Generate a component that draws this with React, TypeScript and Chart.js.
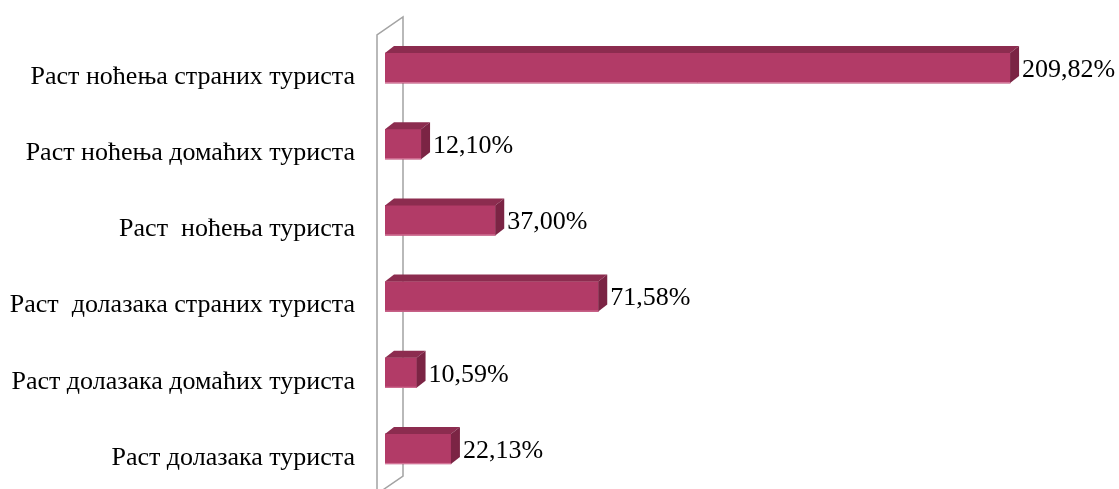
import React, { useEffect, useRef } from "react";
import { Chart, registerables } from "chart.js";

Chart.register(...registerables);

const categories = [
  "Раст ноћења страних туриста",
  "Раст ноћења домаћих туриста",
  "Раст  ноћења туриста",
  "Раст  долазака страних туриста",
  "Раст долазака домаћих туриста",
  "Раст долазака туриста",
];
const values = [209.82, 12.1, 37.0, 71.58, 10.59, 22.13];
const valueLabels = ["209,82%", "12,10%", "37,00%", "71,58%", "10,59%", "22,13%"];

const FONT = "'Liberation Serif', 'Times New Roman', serif";
const DX = 9;
const DY = 7;

const bar3d = {
  id: "bar3d",
  beforeDatasetsDraw(chart: any) {
    const ctx = chart.ctx;
    const xs = chart.scales.x;
    const ys = chart.scales.y;
    const x0 = xs.getPixelForValue(0);
    const lx = x0 - 8;
    const rx = x0 + 18;
    const top = ys.top + 5;
    const bottom = chart.height + 10;
    ctx.save();
    ctx.strokeStyle = "#A3A3A3";
    ctx.lineWidth = 1.5;
    ctx.beginPath();
    ctx.moveTo(lx, bottom);
    ctx.lineTo(lx, top);
    ctx.lineTo(rx, top - 18);
    ctx.lineTo(rx, ys.bottom - 11);
    ctx.lineTo(lx, ys.bottom + 7);
    ctx.stroke();
    ctx.restore();
  },
  afterDatasetsDraw(chart: any) {
    const ctx = chart.ctx;
    const meta = chart.getDatasetMeta(0);
    ctx.save();
    meta.data.forEach((el: any, i: number) => {
      const p = el.getProps(["x", "y", "base", "height"], true);
      const t = p.y - p.height / 2;
      const b = p.y + p.height / 2;
      const l = p.base;
      const r = p.x;
      ctx.fillStyle = "#8C2C4F";
      ctx.beginPath();
      ctx.moveTo(l, t);
      ctx.lineTo(r, t);
      ctx.lineTo(r + DX, t - DY);
      ctx.lineTo(l + DX, t - DY);
      ctx.closePath();
      ctx.fill();
      ctx.fillStyle = "#7B2444";
      ctx.beginPath();
      ctx.moveTo(r, t);
      ctx.lineTo(r + DX, t - DY);
      ctx.lineTo(r + DX, b - DY);
      ctx.lineTo(r, b);
      ctx.closePath();
      ctx.fill();
      ctx.strokeStyle = "rgba(230,150,180,0.7)";
      ctx.lineWidth = 1;
      ctx.beginPath();
      ctx.moveTo(l, b - 0.5);
      ctx.lineTo(r, b - 0.5);
      ctx.stroke();
      ctx.fillStyle = "#000";
      ctx.font = `26px ${FONT}`;
      ctx.textAlign = "left";
      ctx.textBaseline = "middle";
      ctx.fillText(valueLabels[i], r + DX + 3, p.y + 2);
    });
    ctx.restore();
  },
};

export default function App() {
  const ref = useRef<HTMLCanvasElement | null>(null);
  useEffect(() => {
    document.body.style.margin = "0";
    const chart = new Chart(ref.current as HTMLCanvasElement, {
      type: "bar",
      data: {
        labels: categories,
        datasets: [
          {
            data: values,
            backgroundColor: "#B23B67",
            borderWidth: 0,
            barThickness: 30,
          },
        ],
      },
      options: {
        indexAxis: "y",
        animation: false,
        responsive: true,
        maintainAspectRatio: false,
        layout: { padding: { top: 30, bottom: 2, right: 19, left: 0 } },
        plugins: { legend: { display: false }, tooltip: { enabled: false } },
        scales: {
          x: { display: false, min: 0, max: 240 },
          y: {
            grid: { display: false, drawTicks: false },
            border: { display: false },
            afterFit: (s: any) => {
              s.width = 385;
              s.paddingTop = 0;
              s.paddingBottom = 0;
            },
            ticks: {
              color: "#000",
              padding: 30,
              labelOffset: 9,
              font: { family: FONT, size: 26 },
            },
          },
        },
      },
      plugins: [bar3d],
    });
    return () => chart.destroy();
  }, []);
  return (
    <div style={{ width: 1119, height: 489, position: "relative" }}>
      <canvas ref={ref} />
    </div>
  );
}
